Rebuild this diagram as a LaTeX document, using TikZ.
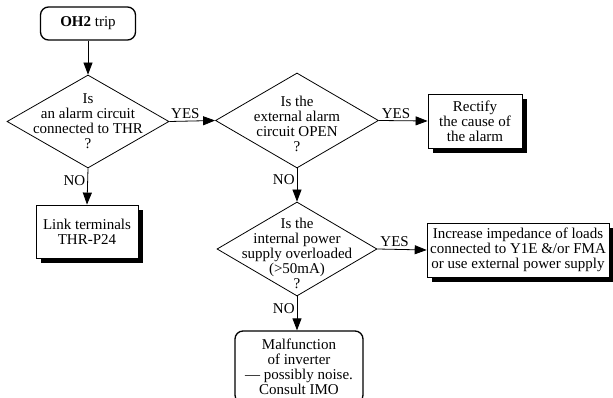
\documentclass[tikz,border=0pt]{standalone}
\usepackage{fontspec}
\setmainfont{Liberation Serif}
\usetikzlibrary{arrows.meta,shapes.geometric,shadows}

\begin{document}
\begin{tikzpicture}[
    x=1pt,
    y=-1pt,
    font=\fontsize{15}{15}\selectfont,
    >={Triangle[length=12pt,width=9pt]},
    terminal/.style={
      draw,
      rounded corners=8pt,
      line width=1.3pt,
      align=center,
      inner sep=2pt
    },
    decision/.style={
      draw,
      diamond,
      line width=0.8pt,
      inner sep=0pt
    },
    question/.style={
      align=center,
      inner sep=0pt
    },
    action/.style={
      draw,
      fill=white,
      line width=0.8pt,
      align=center,
      inner sep=3pt,
      drop shadow={shadow xshift=5pt,shadow yshift=-5pt,fill=black,opacity=1}
    },
    flow/.style={
      ->,
      line width=0.8pt
    },
    answer/.style={
      inner sep=2pt
    }
]
\useasboundingbox (0,0) rectangle (613,398);

% Start of the check.
\node[terminal,minimum width=95pt,minimum height=33pt] (trip) at (88,23.5)
  {\textbf{OH2} trip};

% Questions.
\node[decision,minimum width=162pt,minimum height=93pt] (thr) at (88,121.5) {};
\node[question] (thrq) at (88,121.5)
  {Is\\an alarm circuit\\connected to THR\\?};

\node[decision,minimum width=163pt,minimum height=95pt] (open) at (297,120.5) {};
\node[question] (openq) at (297,124)
  {Is the\\external alarm\\circuit OPEN\\?};

\node[decision,minimum width=160pt,minimum height=94pt] (supply) at (297,249) {};
\node[question] (supplyq) at (297,253)
  {Is the\\internal power\\supply overloaded\\(>50mA)\\?};

% Remedies.
\node[action,minimum width=102pt,minimum height=53pt] (link) at (87,231.5)
  {Link terminals\\THR-P24};
\node[action,minimum width=94pt,minimum height=54pt] (rectify) at (475,121)
  {Rectify\\the cause of\\the alarm};
\node[action,minimum width=180pt,minimum height=54pt] (loads) at (518,250)
  {Increase impedance of loads\\connected to Y1E \&/or FMA\\or use external power supply};
\node[terminal,minimum width=128pt,minimum height=72pt] (fault) at (299,367)
  {Malfunction\\of inverter\\--- possibly noise.\\Consult IMO};

% Connectors.
\draw[flow] (trip) -- (thr);
\draw[flow] (thr.east) -- node[answer,above,pos=0.35] {YES} (open.west);
\draw[flow] (thr.south) -- node[answer,left,pos=0.35] {NO} (link.north);
\draw[flow] (open.east) -- node[answer,above,pos=0.35] {YES} (rectify.west);
\draw[flow] (open.south) -- node[answer,left,pos=0.35] {NO} (supply.north);
\draw[flow] (supply.east) -- node[answer,above,pos=0.35] {YES} (loads.west);
\draw[flow] (supply.south) -- node[answer,left,pos=0.35] {NO} (supply.south |- fault.north);

\end{tikzpicture}
\end{document}
